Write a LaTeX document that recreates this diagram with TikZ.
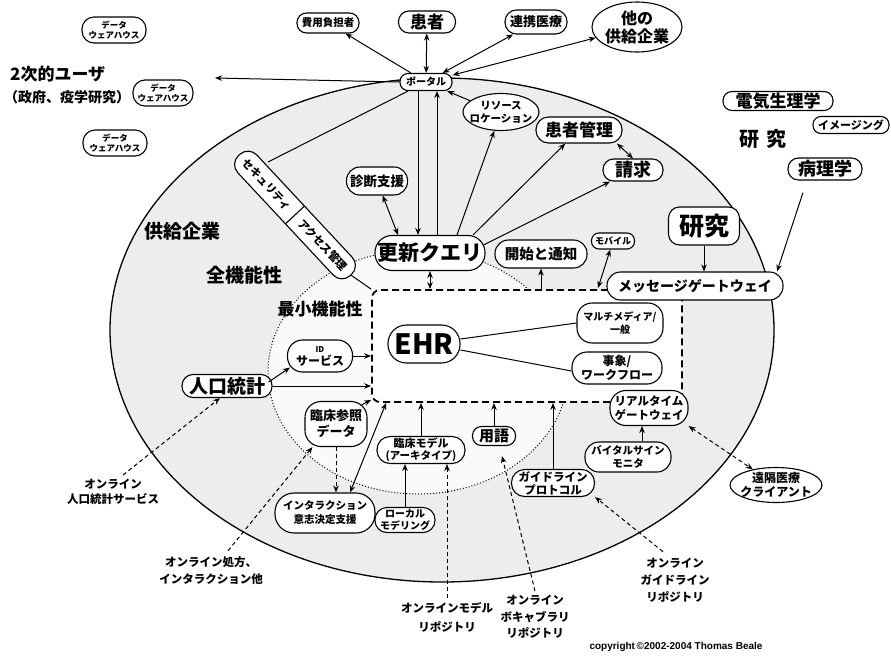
\documentclass[tikz,border=0pt]{standalone}
\usepackage{fontspec}
\setmainfont{Noto Sans CJK JP}
\newfontfamily\lsans{Liberation Sans}
\usetikzlibrary{arrows.meta,shapes.geometric,shapes.multipart}
\newcommand\fz[2]{\fontsize{#1}{#2}\selectfont\bfseries}
\begin{document}
\begin{tikzpicture}[x=1pt,y=-1pt,
  nbox/.style={draw, line width=1.1pt, fill=white, inner sep=0pt, align=center},
  pill/.style={nbox, rectangle, rounded corners=#1},
  oval/.style={nbox, ellipse, inner sep=-10pt},
  lab/.style={inner sep=0pt, align=center},
  ln/.style={line width=1pt},
  arr/.style={line width=1pt, -{Stealth[length=7pt,width=5.5pt]}},
  darr/.style={line width=1pt, {Stealth[length=7pt,width=5.5pt]}-{Stealth[length=7pt,width=5.5pt]}},
  dsh/.style={dash pattern=on 4pt off 3pt},
]
\fill[white] (0,0) rectangle (891,656);
\useasboundingbox (0,0) rectangle (891,656);

% regions
\draw[fill=black!7, line width=1.3pt] (442,330) ellipse [x radius=332, y radius=252];
\draw[fill=black!2, line width=1pt, dotted] (418,372) ellipse [x radius=150, y radius=122];
\node[draw, line width=1.8pt, dash pattern=on 7pt off 4pt, rounded corners=8pt, fill=white,
      minimum width=310pt, minimum height=112pt, inner sep=0pt] (box) at (527,346) {};

% outside labels
\node[lab, anchor=west, font=\fz{17}{20}] (suser1) at (10,74) {2次的ユーザ};
\node[lab, anchor=west, font=\fz{14}{16}] (suser2) at (4,97) {（政府、疫学研究）};
\node[lab, font=\fz{20}{22}] (kenkyuL) at (763,139) {研\hspace{7pt}究};
\node[lab, font=\fz{19}{22}] (vendor) at (182,231) {供給企業};
\node[lab, font=\fz{19}{22}] (fullf) at (244,275) {全機能性};
\node[lab, font=\fz{17}{20}] (minf) at (320,309) {最小機能性};
\node[lab, font=\fz{11.5}{15}] (ojinkou) at (113,492) {オンライン\\人口統計サービス};
\node[lab, font=\fz{11.5}{17}] (oshohou) at (211,571) {オンライン処方、\\インタラクション他};
\node[lab, font=\fz{11.5}{19}] (omodel) at (447,617) {オンラインモデル\\リポジトリ};
\node[lab, font=\fz{11.5}{16.5}] (ovocab) at (535,617) {オンライン\\ボキャブラリ\\リポジトリ};
\node[lab, font=\fz{11.5}{17}] (oguide) at (675,580) {オンライン\\ガイドライン\\リポジトリ};
\node[lab, font={\lsans\bfseries\fontsize{10}{12}\selectfont}] (copy) at (676,647) {copyright\,©2002-2004 Thomas Beale};

% top nodes
\node[pill=12pt, minimum width=64pt, minimum height=26pt, font=\fz{8.5}{10}] (dwa) at (114,30) {データ\\ウェアハウス};
\node[pill=12pt, minimum width=60pt, minimum height=26pt, font=\fz{8.5}{10}] (dwb) at (163,93) {データ\\ウェアハウス};
\node[pill=12pt, minimum width=64pt, minimum height=26pt, font=\fz{8.5}{10}] (dwc) at (115,143) {データ\\ウェアハウス};
\node[pill=8pt, minimum width=52pt, minimum height=17pt, font=\fz{10}{11}] (portal) at (426,82) {ポータル};
\node[pill=9.5pt, minimum width=62pt, minimum height=20pt, font=\fz{10.5}{12}] (payer) at (328,23) {費用負担者};
\node[pill=10.5pt, minimum width=57pt, minimum height=22pt, font=\fz{17}{18}] (patient) at (427,22) {患者};
\node[pill=11.5pt, minimum width=62pt, minimum height=24pt, font=\fz{13}{14}] (renkei) at (536,22) {連携医療};
\node[oval, minimum width=90pt, minimum height=50pt, font=\fz{16}{18}] (other) at (637,27) {他の\\供給企業};
\node[oval, minimum width=76pt, minimum height=37pt, font=\fz{10.5}{13}] (resource) at (501,112) {リソース\\ロケーション};
\node[pill=12.5pt, minimum width=86pt, minimum height=26pt, font=\fz{17}{18}] (kanja) at (579,130) {患者管理};
\node[pill=10.5pt, minimum width=60pt, minimum height=22pt, font=\fz{18}{19}] (seikyu) at (633,170) {請求};
\node[pill=13.5pt, minimum width=61pt, minimum height=28pt, font=\fz{13.5}{15}] (shindan) at (377,181) {診断支援};
\node[pill=17pt, minimum width=110pt, minimum height=35pt, font=\fz{21}{22}] (koushin) at (430,253) {更新クエリ};
\node[pill=13.5pt, minimum width=92pt, minimum height=28pt, font=\fz{14.5}{16}] (kaishi) at (541,254) {開始と通知};
\node[pill=7.5pt, minimum width=43pt, minimum height=16pt, font=\fz{9}{10}] (mobile) at (613,241) {モバイル};
\node[pill=11pt, minimum width=71pt, minimum height=38pt, font=\fz{25}{26}] (kenkyuB) at (704,226) {研究};
\node[pill=13.5pt, minimum width=176pt, minimum height=28pt, font=\fz{14}{15}] (msg) at (695,286) {メッセージゲートウェイ};
\node[pill=9pt, minimum width=110pt, minimum height=19pt, font=\fz{17}{18}] (denki) at (778,101) {電気生理学};
\node[pill=8pt, minimum width=76pt, minimum height=17pt, font=\fz{11}{12}] (imaging) at (851,125) {イメージング};
\node[pill=10.5pt, minimum width=74pt, minimum height=22pt, font=\fz{18}{19}] (byouri) at (825,169) {病理学};

% security / access
\node[draw, line width=1.1pt, fill=white, rectangle split, rectangle split horizontal,
      rectangle split parts=2, rounded corners=12pt, rotate=-47, inner xsep=8pt, inner ysep=7pt,
      minimum height=26pt, font=\fz{11}{12}] (sec) at (295,215) {セキュリティ\nodepart{two}アクセス管理};

% inner nodes
\node[pill=18.5pt, minimum width=72pt, minimum height=38pt, font=\fz{28}{30}] (EHR) at (424,344) {EHR};
\node[pill=15pt, minimum width=86pt, minimum height=40pt, font=\fz{10}{13}] (mm) at (620,323) {マルチメディア/\\一般};
\node[pill=15pt, minimum width=90pt, minimum height=32pt, font=\fz{12}{14}] (jishou) at (617,368) {事象/\\ワークフロー};
\node[pill=15pt, minimum width=65pt, minimum height=32pt, font=\fz{12}{13}] (ID) at (320,356) {{\fontsize{8}{9}\selectfont ID}\\サービス};
\node[pill=11pt, minimum width=90pt, minimum height=23pt, font=\fz{19}{20}] (jinkou) at (227,386) {人口統計};
\node[pill=16pt, minimum width=62pt, minimum height=45pt, font=\fz{13}{16}] (rinref) at (336,424) {臨床参照\\データ};
\node[pill=19pt, minimum width=100pt, minimum height=40pt, font=\fz{10.5}{14}] (inter) at (325,513) {インタラクション\\意志決定支援};
\node[pill=13pt, minimum width=88pt, minimum height=27pt, font=\fz{11}{12}] (model) at (421,450) {臨床モデル\\{\fontsize{10.5}{12}\selectfont (アーキタイプ)}};
\node[pill=12pt, minimum width=60pt, minimum height=25pt, font=\fz{10}{11.5}] (local) at (405,520) {ローカル\\モデリング};
\node[pill=9pt, minimum width=43pt, minimum height=19pt, font=\fz{15}{16}] (yougo) at (494,436) {用語};
\node[pill=13pt, minimum width=83pt, minimum height=27pt, font=\fz{11.5}{13}] (guide) at (553,483) {ガイドライン\\プロトコル};
\node[pill=14pt, minimum width=86pt, minimum height=30pt, font=\fz{10.5}{12.5}] (vital) at (628,457) {バイタルサイン\\モニタ};
\node[pill=16pt, minimum width=78pt, minimum height=35pt, font=\fz{11.5}{13.5}] (realtime) at (649,408) {リアルタイム\\ゲートウェイ};
\node[oval, minimum width=92pt, minimum height=35pt, font=\fz{12}{14}] (telemed) at (776,485) {遠隔医療\\クライアント};

% coordinates
\coordinate (suser) at (215,78);
\coordinate (secA) at (268,162);
\coordinate (mobB) at (598,288);
\coordinate (vA) at ([xshift=14pt]vital.north);

% connectors: portal
\draw[arr] (portal.west) -- (suser);
\draw[arr] (portal) -- (payer);
\draw[darr] (portal) -- (patient);
\draw[darr] (portal) -- (renkei);
\draw[darr] (portal) -- (other);
\draw[ln] (portal) -- (secA);
\draw[ln] (sec.east) -- (box.north west);
\draw[arr] ([xshift=-8pt]portal.south) -- ([xshift=-12pt]koushin.north);
\draw[arr] ([xshift=7pt]koushin.north) -- ([xshift=11pt]portal.south);
\draw[arr] (resource.160) -- (portal);

% connectors: update query
\draw[arr] ([xshift=27pt]koushin.north) -- (resource);
\draw[arr] ([xshift=43pt]koushin.north) -- (kanja);
\draw[arr] ([xshift=-2pt,yshift=8pt]koushin.east) -- (seikyu);
\draw[darr] ([xshift=38pt]kanja.south) -- (seikyu.north);
\draw[darr] (shindan) -- ([xshift=-32pt]koushin.north);
\draw[darr] (koushin.south) -- (koushin.south |- box.north);
\draw[arr] (kaishi.south |- box.north) -- (kaishi.south);
\draw[darr] (mobB) -- (mobile);

% research side
\draw[arr] (kenkyuB) -- (kenkyuB |- msg.north);
\draw[arr] ([xshift=-22pt,yshift=-12pt]byouri.south) -- ([xshift=82pt]msg.north);

% EHR
\draw[ln] ([yshift=5pt]EHR.east) -- (mm.west);
\draw[ln] ([yshift=-6pt]EHR.east) -- ([yshift=-3pt]jishou.west);

% left side
\draw[arr] (ID.east) -- (ID.east -| box.west);
\draw[arr] (jinkou.east) -- (jinkou.east -| box.west);
\draw[arr] ([xshift=-4pt,yshift=4pt]jinkou.east) -- ([xshift=3pt,yshift=5pt]ID.south west);
\draw[dsh,arr] ([xshift=10pt,yshift=4pt]ojinkou.north) -- ([xshift=-7pt]jinkou.south);
\draw[dsh,arr] ([xshift=17pt,yshift=6pt]oshohou.north) -- ([xshift=8pt]rinref.south west);
\draw[dsh,arr] (rinref.south) -- (rinref.south |- inter.north);
\draw[arr] ([xshift=-6pt,yshift=-4pt]rinref.north east) -- ([yshift=3pt]box.south west);
\draw[darr] ([xshift=25pt]inter.north) -- ([xshift=15pt]box.south west);

% bottom
\draw[arr] (model.north) -- (model.north |- box.south);
\draw[arr] (local.north) -- (local.north |- model.south);
\draw[dsh,arr] ([yshift=4pt]omodel.north) -- (omodel.north |- model.south);
\draw[arr] (yougo.north) -- (yougo.north |- box.south);
\draw[dsh,arr] ([yshift=4pt]ovocab.north) -- ([xshift=8pt,yshift=-10pt]yougo.south);
\draw[arr] (guide.north) -- (guide.north |- box.south);
\draw[dsh,arr] ([xshift=-12pt,yshift=6pt]oguide.north) -- (guide.south east);
\draw[arr] (vA) -- (vA |- realtime.south);
\draw[dsh,darr] (realtime.south east) -- (telemed);
\end{tikzpicture}
\end{document}
